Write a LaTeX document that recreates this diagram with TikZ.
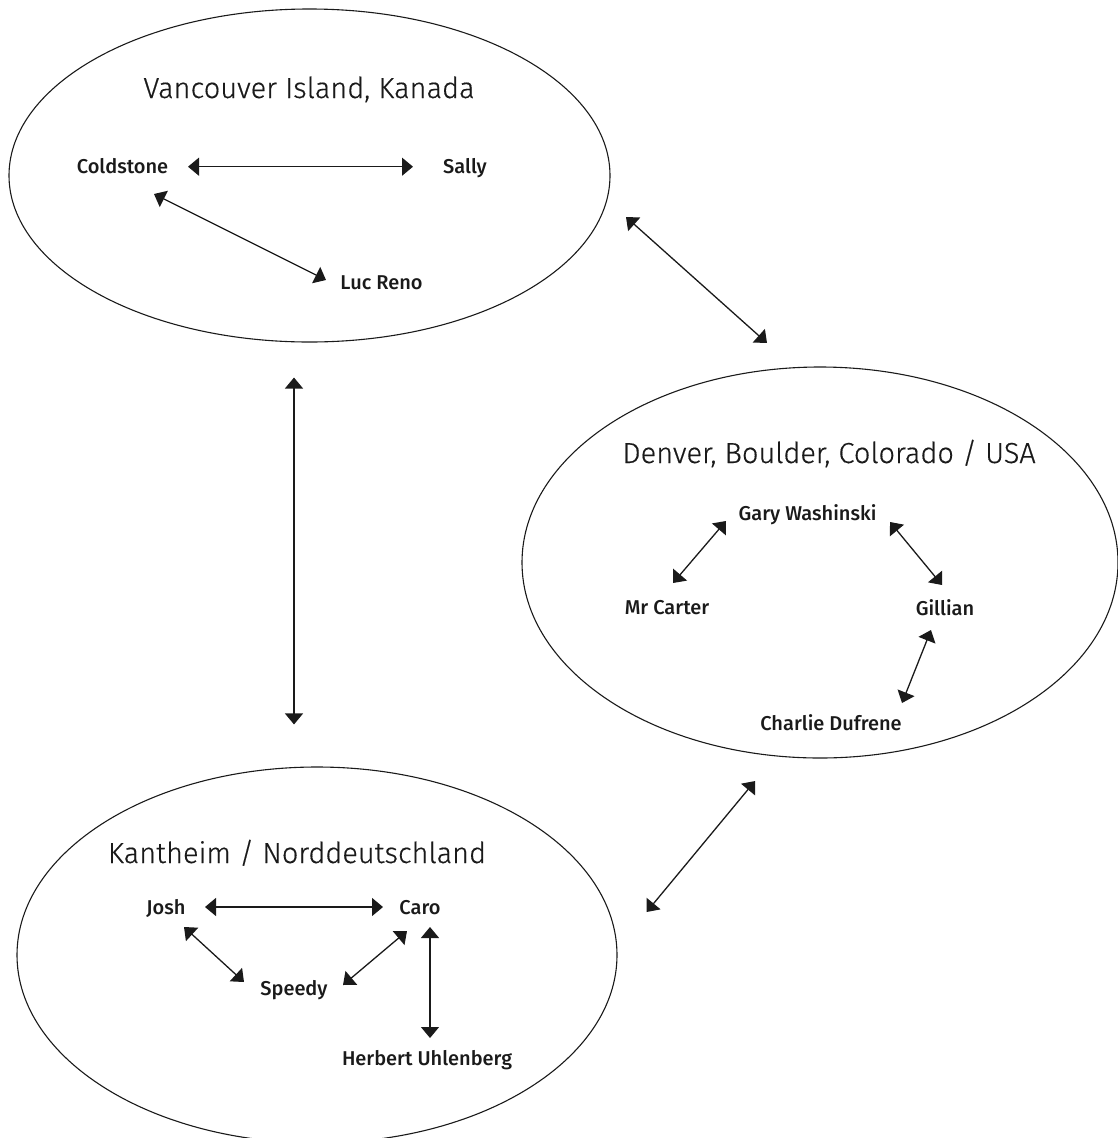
\documentclass[tikz,border=0pt]{standalone}
\usepackage{fontspec}
\setmainfont{Fira Sans}
\newfontfamily\lightfont{Fira Sans Light}[FakeBold=0.4]
\newfontfamily\medfont{Fira Sans Medium}
\usetikzlibrary{arrows.meta,shapes.geometric}
\definecolor{ink}{HTML}{1A1A1A}
\begin{document}
\begin{tikzpicture}[x=1pt,y=-1pt,
  nm/.style={font=\medfont\fontsize{20}{23}\selectfont, inner sep=0pt, text height=14pt, text depth=0pt, text=ink},
  ttl/.style={font=\lightfont\fontsize{29}{32}\selectfont, inner sep=0pt, text height=20pt, text depth=0pt, text=ink},
  region/.style={draw=ink, ellipse, line width=1.1pt, inner sep=0pt},
  link/.style={draw=ink, line width=1.3pt, {Triangle[length=11pt,width=18pt]}-{Triangle[length=11pt,width=18pt]}},
]
\useasboundingbox (0,0) rectangle (1118,1138);

% regions
\node[region, minimum width=601pt, minimum height=333pt] (eV) at (309.5,175.5) {};
\node[region, minimum width=596pt, minimum height=391pt] (eD) at (820,562.5) {};
\node[region, minimum width=600pt, minimum height=376pt] (eK) at (317,955) {};

% titles
\node[ttl] (tV) at (309,88) {Vancouver Island, Kanada};
\node[ttl] (tD) at (829,453) {Denver, Boulder, Colorado / USA};
\node[ttl] (tK) at (297,853) {Kantheim / Norddeutschland};

% names
\node[nm] (cold) at (122.5,166) {Coldstone};
\node[nm] (sally) at (465,166) {Sally};
\node[nm] (luc) at (381.5,282) {Luc Reno};

\node[nm] (gary) at (807.5,513) {Gary Washinski};
\node[nm] (carter) at (667,607) {Mr Carter};
\node[nm] (gillian) at (945,608) {Gillian};
\node[nm] (charlie) at (831,723) {Charlie Dufrene};

\node[nm] (josh) at (166,907) {Josh};
\node[nm] (caro) at (420,907) {Caro};
\node[nm] (speedy) at (294,988) {Speedy};
\node[nm] (herbert) at (427,1058) {Herbert Uhlenberg};

% links inside regions
\draw[link] ([shift={(65.5,0.7)}]cold.center) -- ([shift={(-52,0.7)}]sally.center);
\draw[link] ([shift={(31.5,28)}]cold.center) -- ([shift={(-55.5,-2)}]luc.center);

\draw[link] ([shift={(-81.5,8)}]gary.center) -- ([shift={(6,-24)}]carter.center);
\draw[link] ([shift={(82.5,9)}]gary.center) -- ([shift={(-3,-23)}]gillian.center);
\draw[link] ([shift={(-14,22)}]gillian.center) -- ([shift={(71,-20)}]charlie.center);

\draw[link] ([shift={(39,0)}]josh.center) -- ([shift={(-37,0)}]caro.center);
\draw[link] ([shift={(18,20)}]josh.center) -- ([shift={(-50,-6)}]speedy.center);
\draw[link] ([shift={(-13,24)}]caro.center) -- ([shift={(49,-3)}]speedy.center);
\draw[link] ([shift={(10,20)}]caro.center) -- ([shift={(3,-20)}]herbert.center);

% links between regions
\draw[link] ([shift={(316.5,41.5)}]eV.center) -- ([shift={(-53,-219.5)}]eD.center);
\draw[link] ([shift={(-15.5,35)}]eV.south) -- ([shift={(-23,-42)}]eK.north);
\draw[link] ([shift={(-65,22.5)}]eD.south) -- ([shift={(29,-43)}]eK.east);
\end{tikzpicture}
\end{document}
